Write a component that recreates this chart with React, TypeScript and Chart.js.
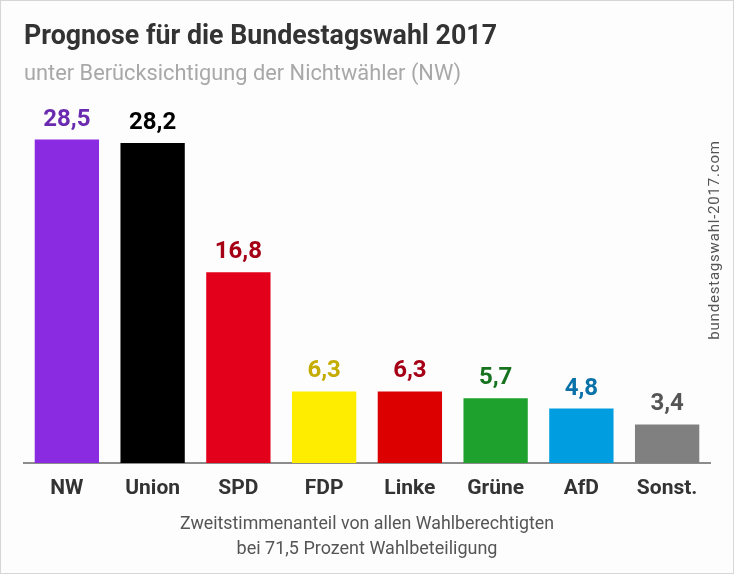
import React, { useEffect, useRef } from "react";
import { Chart, registerables } from "chart.js";

Chart.register(...registerables);

const categories = ["NW", "Union", "SPD", "FDP", "Linke", "Grüne", "AfD", "Sonst."];
const values = [28.5, 28.2, 16.8, 6.3, 6.3, 5.7, 4.8, 3.4];
const barColors = ["#8a2be2", "#000000", "#e3001b", "#ffed00", "#dc0000", "#1fa12e", "#009ee0", "#808080"];
const labelColors = ["#6b2bb0", "#000000", "#a50016", "#c4ad00", "#a50016", "#18731f", "#0a72a8", "#555555"];
const titleText = "Prognose für die Bundestagswahl 2017";
const subtitleText = "unter Berücksichtigung der Nichtwähler (NW)";
const footLines = ["Zweitstimmenanteil von allen Wahlberechtigten", "bei 71,5 Prozent Wahlbeteiligung"];
const sideText = "bundestagswahl-2017.com";

const W = 734;
const H = 574;

export default function App() {
  const ref = useRef<HTMLCanvasElement | null>(null);

  useEffect(() => {
    if (!ref.current) return;
    const textPlugin = {
      id: "texts",
      beforeDraw(chart: any) {
        const ctx = chart.ctx;
        ctx.save();
        ctx.fillStyle = "#fdfdfd";
        ctx.fillRect(0, 0, W, H);
        ctx.restore();
      },
      afterDraw(chart: any) {
        const ctx = chart.ctx;
        ctx.save();
        ctx.textAlign = "left";
        ctx.textBaseline = "alphabetic";
        ctx.fillStyle = "#333333";
        ctx.font = "bold 28px Roboto";
        ctx.fillText(titleText, 23, 43, 473);
        ctx.fillStyle = "#a8a8a8";
        ctx.font = "22px Roboto";
        ctx.fillText(subtitleText, 23, 79, 437);

        ctx.textAlign = "center";
        ctx.fillStyle = "#555555";
        ctx.font = "18px Roboto";
        ctx.fillText(footLines[0], 366, 528, 374);
        ctx.fillText(footLines[1], 366, 553, 262);

        ctx.save();
        ctx.translate(714, 239);
        ctx.rotate(-Math.PI / 2);
        ctx.fillStyle = "#555555";
        ctx.font = "15px Roboto";
        ctx.textBaseline = "middle";
        (ctx as any).letterSpacing = "0.8px";
        ctx.fillText(sideText, 0, 0, 204);
        ctx.restore();

        const meta = chart.getDatasetMeta(0);
        ctx.font = "bold 24px Roboto";
        ctx.textAlign = "center";
        ctx.textBaseline = "alphabetic";
        meta.data.forEach((bar: any, i: number) => {
          ctx.fillStyle = labelColors[i];
          ctx.fillText(String(values[i]).replace(".", ","), bar.x, bar.y - 14);
        });
        ctx.restore();
      },
    };

    const chart = new Chart(ref.current, {
      type: "bar",
      data: {
        labels: categories,
        datasets: [
          {
            data: values,
            backgroundColor: barColors,
            borderWidth: 0,
            categoryPercentage: 1,
            barPercentage: 0.75,
          },
        ],
      },
      options: {
        responsive: false,
        animation: false,
        events: [],
        layout: { padding: { top: 121.5, left: 23, right: 23, bottom: 0 } },
        plugins: {
          legend: { display: false },
          title: { display: false },
          tooltip: { enabled: false },
        },
        scales: {
          x: {
            grid: { display: false, drawTicks: false },
            border: { display: true, color: "#8c8c8c", width: 2 },
            ticks: {
              color: "#333333",
              font: { family: "Roboto", size: 21, weight: "bold" },
              padding: 13,
              maxRotation: 0,
              autoSkip: false,
            },
            afterFit(scale: any) {
              scale.height = 110;
            },
          },
          y: {
            display: false,
            min: 0,
            max: 30,
          },
        },
      },
      plugins: [textPlugin],
    });
    return () => chart.destroy();
  }, []);

  return (
    <div
      style={{
        position: "absolute",
        left: 0,
        top: 0,
        width: W,
        height: H,
        boxSizing: "border-box",
        border: "1px solid #d6d6d6",
        background: "#fdfdfd",
        overflow: "hidden",
      }}
    >
      <canvas ref={ref} width={W - 2} height={H - 2} style={{ display: "block", width: W - 2, height: H - 2 }} />
    </div>
  );
}
